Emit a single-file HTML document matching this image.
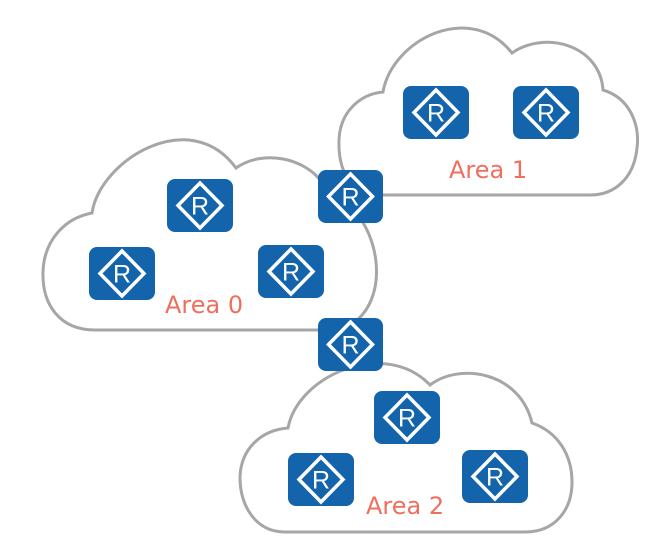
<!DOCTYPE html>
<html><head><meta charset="utf-8"><style>
html,body{margin:0;padding:0;background:#fff;width:655px;height:551px;overflow:hidden}
svg{display:block}
.c{fill:#fff;stroke:#a6a6a6;stroke-width:3}
.r rect{fill:#1464ac}
.r path{fill:none;stroke:#fff;stroke-width:3.5;stroke-linejoin:miter}
.r text{fill:#fff;font-family:"Liberation Sans",sans-serif;font-size:25px;text-anchor:middle}
.a{fill:#ef6f5e;font-family:"DejaVu Sans","Liberation Sans",sans-serif;font-size:24px}
</style></head><body>
<svg width="655" height="551" viewBox="0 0 655 551">
<path class="c" d="M380,195 C350,195 338,170 339,140 C340,112 360,94 383,92 C392,40 470,0 512,53 C545,30 600,45 603,90 C630,98 640,125 637,148 C634,178 615,195 590,195 Z"/>
<path class="c" d="M95,330 C60,330 42,305 43,272 C44,240 65,218 92,213 C100,160 190,105 236,168 C265,148 305,160 320,180 C350,200 372,225 376,262 C380,300 360,330 330,330 Z"/>
<path class="c" d="M285,532 C255,532 240,505 240,477 C241,448 262,430 288,428 C298,375 385,338 430,385 C460,362 520,372 532,423 C558,432 572,455 572,482 C572,510 555,532 525,532 Z"/>

<g class="r" transform="translate(318,170)"><rect width="65" height="53" rx="8"/><path d="M32.5,4 L54.5,26.5 L32.5,49 L10.5,26.5 Z"/><text x="32.5" y="35.5">R</text></g>
<g class="r" transform="translate(318,318)"><rect width="65" height="53" rx="8"/><path d="M32.5,4 L54.5,26.5 L32.5,49 L10.5,26.5 Z"/><text x="32.5" y="35.5">R</text></g>
<g class="r" transform="translate(167,179)"><rect width="66" height="53" rx="8"/><path d="M33,4 L55,26.5 L33,49 L11,26.5 Z"/><text x="33" y="35.5">R</text></g>
<g class="r" transform="translate(89,247)"><rect width="66" height="53" rx="8"/><path d="M33,4 L55,26.5 L33,49 L11,26.5 Z"/><text x="33" y="35.5">R</text></g>
<g class="r" transform="translate(258,245)"><rect width="66" height="53" rx="8"/><path d="M33,4 L55,26.5 L33,49 L11,26.5 Z"/><text x="33" y="35.5">R</text></g>
<g class="r" transform="translate(403,86)"><rect width="66" height="53" rx="8"/><path d="M33,4 L55,26.5 L33,49 L11,26.5 Z"/><text x="33" y="35.5">R</text></g>
<g class="r" transform="translate(513,86)"><rect width="66" height="53" rx="8"/><path d="M33,4 L55,26.5 L33,49 L11,26.5 Z"/><text x="33" y="35.5">R</text></g>
<g class="r" transform="translate(374,391)"><rect width="66" height="53" rx="8"/><path d="M33,4 L55,26.5 L33,49 L11,26.5 Z"/><text x="33" y="35.5">R</text></g>
<g class="r" transform="translate(288,453)"><rect width="66" height="53" rx="8"/><path d="M33,4 L55,26.5 L33,49 L11,26.5 Z"/><text x="33" y="35.5">R</text></g>
<g class="r" transform="translate(462,450)"><rect width="66" height="53" rx="8"/><path d="M33,4 L55,26.5 L33,49 L11,26.5 Z"/><text x="33" y="35.5">R</text></g>

<text class="a" x="165" y="313">Area 0</text>
<text class="a" x="449" y="178">Area 1</text>
<text class="a" x="366" y="514">Area 2</text>
</svg>
</body></html>
